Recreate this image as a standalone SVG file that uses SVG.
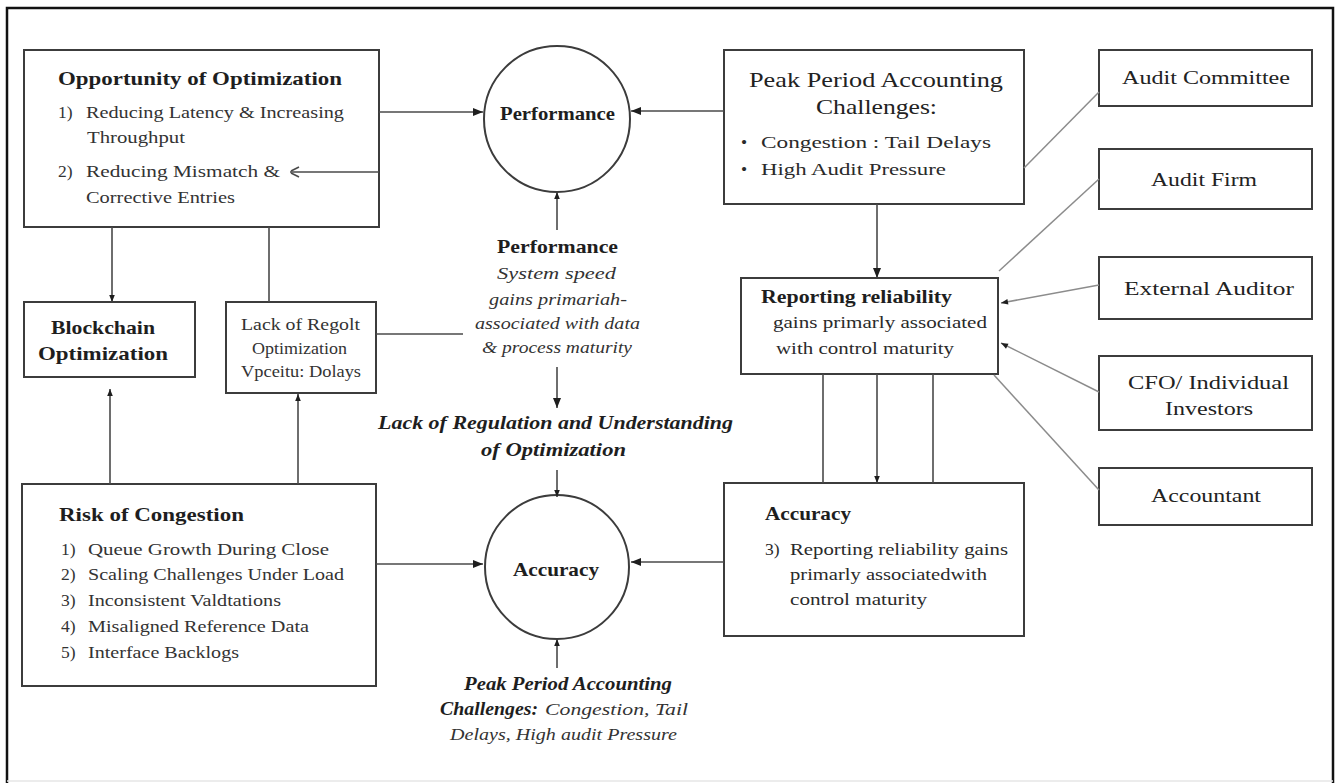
<svg xmlns="http://www.w3.org/2000/svg" width="1338" height="783" viewBox="0 0 1338 783">
  <defs>
    <style>
      .box { fill: #fff; stroke: #3c3c3c; stroke-width: 2; }
      .circ { fill: #fff; stroke: #3c3c3c; stroke-width: 2; }
      .c { fill: none; stroke: #4a4a4a; stroke-width: 1.6; }
      .g { fill: none; stroke: #8c8c8c; stroke-width: 1.5; }
      text { font-family: "Liberation Serif", "Times New Roman", serif; fill: #262626; }
      .t { font-size: 19px; font-weight: bold; fill: #1e1e1e; }
      .n { font-size: 17.5px; fill: #333; }
      .m { font-size: 17.5px; fill: #2a2a2a; }
      .bi { font-size: 18px; font-weight: bold; font-style: italic; fill: #1e1e1e; }
      .it { font-size: 17.5px; font-style: italic; fill: #333; }
      .big { font-size: 21px; fill: #222; }
      .who { font-size: 19px; fill: #222; }
    </style>
    <marker id="ah" viewBox="0 0 10 10" refX="10" refY="5" markerWidth="11" markerHeight="10" markerUnits="userSpaceOnUse" orient="auto">
      <path d="M0,1 L10,5 L0,9 z" fill="#1e1e1e"/>
    </marker>
    <marker id="ahs" viewBox="0 0 10 10" refX="10" refY="5" markerWidth="8" markerHeight="7" markerUnits="userSpaceOnUse" orient="auto">
      <path d="M0,1 L10,5 L0,9 z" fill="#1e1e1e"/>
    </marker>
  </defs>

  <rect x="0" y="0" width="1338" height="783" fill="#fff"/>
  <!-- outer frame -->
  <path d="M7,783 V8 H1333 V783" fill="none" stroke="#111" stroke-width="2.5"/>
  <line x1="7" y1="781" x2="1333" y2="781" stroke="#e6e6e6" stroke-width="1.5"/>

  <!-- Opportunity of Optimization -->
  <g id="opportunity">
    <rect class="box" x="24" y="50" width="355" height="177"/>
    <text class="t" x="58" y="85" textLength="284" lengthAdjust="spacingAndGlyphs">Opportunity of Optimization</text>
    <text class="n" x="58" y="118">1)</text>
    <text class="n" x="86" y="118" textLength="258" lengthAdjust="spacingAndGlyphs">Reducing Latency &amp; Increasing</text>
    <text class="n" x="87" y="143" textLength="98" lengthAdjust="spacingAndGlyphs">Throughput</text>
    <text class="n" x="58" y="177">2)</text>
    <text class="n" x="86" y="177" textLength="194" lengthAdjust="spacingAndGlyphs">Reducing Mismatch &amp;</text>
    <text class="n" x="86" y="203" textLength="149" lengthAdjust="spacingAndGlyphs">Corrective Entries</text>
  </g>

  <!-- Blockchain Optimization -->
  <g id="blockchain">
    <rect class="box" x="24" y="302" width="171" height="75"/>
    <text class="t" x="51" y="334" textLength="104" lengthAdjust="spacingAndGlyphs">Blockchain</text>
    <text class="t" x="38" y="360" textLength="130" lengthAdjust="spacingAndGlyphs">Optimization</text>
  </g>

  <!-- Lack of Regolt box -->
  <g id="lack-box">
    <rect class="box" x="226" y="302" width="150" height="91"/>
    <text class="n" x="241" y="330" textLength="119" lengthAdjust="spacingAndGlyphs">Lack of Regolt</text>
    <text class="n" x="252" y="354" textLength="95" lengthAdjust="spacingAndGlyphs">Optimization</text>
    <text class="n" x="241" y="377" textLength="120" lengthAdjust="spacingAndGlyphs">Vpceitu: Dolays</text>
  </g>

  <!-- Risk of Congestion -->
  <g id="risk">
    <rect class="box" x="22" y="484" width="354" height="202"/>
    <text class="t" x="59" y="521" textLength="185" lengthAdjust="spacingAndGlyphs">Risk of Congestion</text>
    <text class="n" x="61" y="555">1)</text>
    <text class="n" x="88" y="555" textLength="241" lengthAdjust="spacingAndGlyphs">Queue  Growth During Close</text>
    <text class="n" x="61" y="580">2)</text>
    <text class="n" x="88" y="580" textLength="256" lengthAdjust="spacingAndGlyphs">Scaling Challenges Under Load</text>
    <text class="n" x="61" y="606">3)</text>
    <text class="n" x="88" y="606" textLength="193" lengthAdjust="spacingAndGlyphs">Inconsistent Valdtations</text>
    <text class="n" x="61" y="632">4)</text>
    <text class="n" x="88" y="632" textLength="221" lengthAdjust="spacingAndGlyphs">Misaligned Reference Data</text>
    <text class="n" x="61" y="658">5)</text>
    <text class="n" x="88" y="658" textLength="151" lengthAdjust="spacingAndGlyphs">Interface Backlogs</text>
  </g>

  <!-- Performance circle -->
  <g id="performance">
    <circle class="circ" cx="557" cy="119" r="73"/>
    <text class="t" x="500" y="120" textLength="115" lengthAdjust="spacingAndGlyphs">Performance</text>
  </g>

  <!-- Performance note -->
  <g id="performance-note">
    <text class="t" x="497" y="253" textLength="121" lengthAdjust="spacingAndGlyphs">Performance</text>
    <text class="it" x="497" y="279" textLength="119" lengthAdjust="spacingAndGlyphs">System speed</text>
    <text class="it" x="489" y="305" textLength="138" lengthAdjust="spacingAndGlyphs">gains primariah-</text>
    <text class="it" x="475" y="329" textLength="165" lengthAdjust="spacingAndGlyphs">associated with data</text>
    <text class="it" x="482" y="353" textLength="150" lengthAdjust="spacingAndGlyphs">&amp; process maturity</text>
  </g>

  <!-- Lack of regulation note -->
  <g id="regulation-note">
    <text class="bi" x="378" y="429" textLength="355" lengthAdjust="spacingAndGlyphs">Lack of Regulation and Understanding</text>
    <text class="bi" x="481" y="456" textLength="145" lengthAdjust="spacingAndGlyphs">of Optimization</text>
  </g>

  <!-- Accuracy circle -->
  <g id="accuracy">
    <circle class="circ" cx="557" cy="567" r="72"/>
    <text class="t" x="513" y="576" textLength="86" lengthAdjust="spacingAndGlyphs">Accuracy</text>
  </g>

  <!-- Peak period note -->
  <g id="peak-note">
    <text class="bi" x="464" y="690" textLength="208" lengthAdjust="spacingAndGlyphs">Peak Period Accounting</text>
    <text class="bi" x="440" y="715" textLength="98" lengthAdjust="spacingAndGlyphs">Challenges:</text>
    <text class="it" x="545" y="715" textLength="143" lengthAdjust="spacingAndGlyphs">Congestion, Tail</text>
    <text class="it" x="450" y="740" textLength="227" lengthAdjust="spacingAndGlyphs">Delays, High audit Pressure</text>
  </g>

  <!-- Peak Period Accounting Challenges box -->
  <g id="peak">
    <rect class="box" x="724" y="50" width="300" height="154"/>
    <text class="big" x="749" y="87" textLength="254" lengthAdjust="spacingAndGlyphs">Peak Period Accounting</text>
    <text class="big" x="816" y="114" textLength="121" lengthAdjust="spacingAndGlyphs">Challenges:</text>
    <text class="m" x="741" y="148">•</text>
    <text class="m" x="761" y="148" textLength="230" lengthAdjust="spacingAndGlyphs">Congestion :  Tail Delays</text>
    <text class="m" x="741" y="175">•</text>
    <text class="m" x="761" y="175" textLength="185" lengthAdjust="spacingAndGlyphs">High Audit Pressure</text>
  </g>

  <!-- Reporting reliability -->
  <g id="reporting">
    <rect class="box" x="741" y="278" width="257" height="96"/>
    <text class="t" x="761" y="303" textLength="191" lengthAdjust="spacingAndGlyphs">Reporting reliability</text>
    <text class="m" x="773" y="328" textLength="214" lengthAdjust="spacingAndGlyphs">gains primarly associated</text>
    <text class="m" x="776" y="354" textLength="178" lengthAdjust="spacingAndGlyphs">with control maturity</text>
  </g>

  <!-- Accuracy detail box -->
  <g id="accuracy-detail">
    <rect class="box" x="724" y="483" width="300" height="153"/>
    <text class="t" x="765" y="520" textLength="86" lengthAdjust="spacingAndGlyphs">Accuracy</text>
    <text class="m" x="765" y="555">3)</text>
    <text class="m" x="790" y="555" textLength="218" lengthAdjust="spacingAndGlyphs">Reporting reliability gains</text>
    <text class="m" x="790" y="580" textLength="197" lengthAdjust="spacingAndGlyphs">primarly associatedwith</text>
    <text class="m" x="790" y="605" textLength="137" lengthAdjust="spacingAndGlyphs">control maturity</text>
  </g>

  <!-- stakeholder boxes -->
  <g id="audit-committee">
    <rect class="box" x="1099" y="50" width="213" height="56"/>
    <text class="who" x="1122" y="84" textLength="168" lengthAdjust="spacingAndGlyphs">Audit Committee</text>
  </g>
  <g id="audit-firm">
    <rect class="box" x="1099" y="149" width="213" height="60"/>
    <text class="who" x="1151" y="186" textLength="106" lengthAdjust="spacingAndGlyphs">Audit Firm</text>
  </g>
  <g id="external-auditor">
    <rect class="box" x="1099" y="257" width="213" height="62"/>
    <text class="who" x="1124" y="295" textLength="170" lengthAdjust="spacingAndGlyphs">External Auditor</text>
  </g>
  <g id="cfo-investors">
    <rect class="box" x="1099" y="356" width="213" height="74"/>
    <text class="who" x="1128" y="389" textLength="161" lengthAdjust="spacingAndGlyphs">CFO/ Individual</text>
    <text class="who" x="1165" y="415" textLength="88" lengthAdjust="spacingAndGlyphs">Investors</text>
  </g>
  <g id="accountant">
    <rect class="box" x="1099" y="468" width="213" height="57"/>
    <text class="who" x="1151" y="502" textLength="110" lengthAdjust="spacingAndGlyphs">Accountant</text>
  </g>

  <!-- connectors, drawn over the nodes -->
  <g id="connectors">
    <line class="c" x1="379" y1="112" x2="483" y2="112" marker-end="url(#ah)"/>
    <line class="c" x1="724" y1="111" x2="631" y2="111" marker-end="url(#ah)"/>
    <line class="c" x1="379" y1="172" x2="290" y2="172"/>
    <path class="c" d="M299,167 L291,171 M299,177 L291,173"/>
    <line class="c" x1="557" y1="230" x2="557" y2="192" marker-end="url(#ahs)"/>
    <line class="c" x1="557" y1="367" x2="557" y2="408" marker-end="url(#ah)"/>
    <line class="c" x1="557" y1="470" x2="557" y2="497" marker-end="url(#ahs)"/>
    <line class="c" x1="557" y1="668" x2="557" y2="639" marker-end="url(#ahs)"/>
    <line class="c" x1="376" y1="564" x2="483" y2="564" marker-end="url(#ah)"/>
    <line class="c" x1="724" y1="562" x2="631" y2="562" marker-end="url(#ah)"/>
    <line class="c" x1="112" y1="227" x2="112" y2="302" marker-end="url(#ahs)"/>
    <line class="c" x1="269" y1="227" x2="269" y2="302"/>
    <line class="c" x1="376" y1="334" x2="463" y2="334"/>
    <line class="c" x1="110" y1="484" x2="110" y2="389" marker-end="url(#ahs)"/>
    <line class="c" x1="298" y1="484" x2="298" y2="394" marker-end="url(#ahs)"/>
    <line class="c" x1="877" y1="204" x2="877" y2="278" marker-end="url(#ah)"/>
    <line class="c" x1="823" y1="374" x2="823" y2="483"/>
    <line class="c" x1="877" y1="374" x2="877" y2="483" marker-end="url(#ahs)"/>
    <line class="c" x1="933" y1="374" x2="933" y2="483"/>
    <line class="g" x1="1024" y1="168" x2="1099" y2="92"/>
    <line class="g" x1="1099" y1="179" x2="999" y2="271"/>
    <line class="g" x1="1099" y1="285" x2="1001" y2="303" marker-end="url(#ahs)"/>
    <line class="g" x1="1099" y1="392" x2="1001" y2="343" marker-end="url(#ahs)"/>
    <line class="g" x1="1099" y1="490" x2="994" y2="375"/>
  </g>
</svg>
